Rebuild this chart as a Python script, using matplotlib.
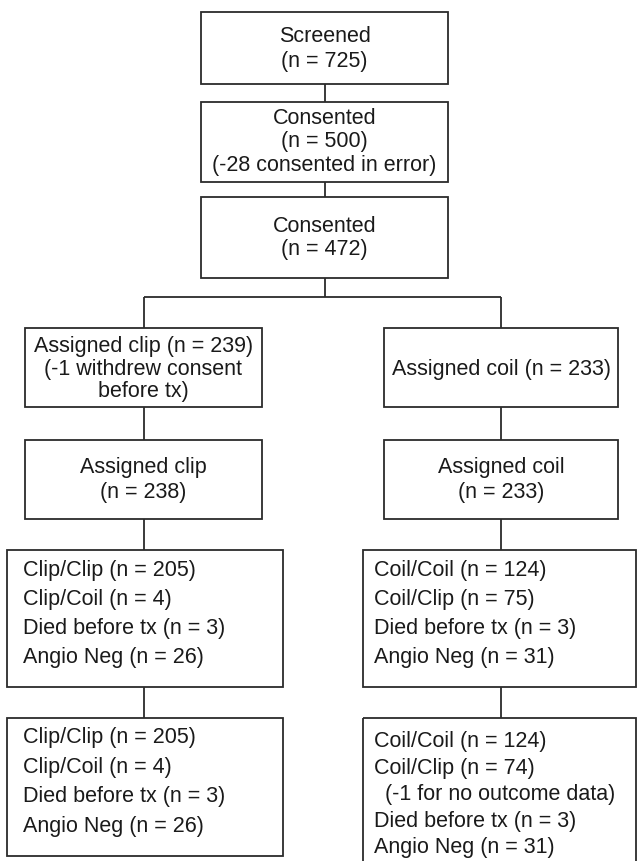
import matplotlib
matplotlib.use("Agg")
import matplotlib.pyplot as plt
from matplotlib.patches import Rectangle

# counts in the flow diagram
n_screened = 725
n_consented = 500
n_consented_error = 28
n_consented_final = 472

arm_names = ["clip", "coil"]
arm_assigned = [239, 233]
arm_withdrew = [1, 0]
arm_treated = [238, 233]

outcome_labels = [["Clip/Clip", "Clip/Coil", "Died before tx", "Angio Neg"],
                  ["Coil/Coil", "Coil/Clip", "Died before tx", "Angio Neg"]]
outcome_n_tx = [[205, 4, 3, 26], [124, 75, 3, 31]]
outcome_n_final = [[205, 4, 3, 26], [124, 74, 3, 31]]
no_outcome = [0, 1]  # lost from Coil/Clip for no outcome data

plt.rcParams['font.family'] = ['Liberation Sans', 'DejaVu Sans']
FS = 15.5
LC = '#2b2b2b'
LW = 1.3

fig = plt.figure(figsize=(6.37, 8.62), dpi=100)
ax = fig.add_axes([0, 0, 1, 1])
ax.set_xlim(0, 637)
ax.set_ylim(862, 0)
ax.axis('off')


def box(x0, x1, y0, y1):
    ax.add_patch(Rectangle((x0, y0), x1 - x0, y1 - y0, fill=False,
                           edgecolor=LC, linewidth=LW))


def line(xs, ys):
    ax.plot(xs, ys, color=LC, linewidth=LW, solid_capstyle='butt')


def centered(lines, xc, yc, pitch=24):
    y0 = yc - pitch * (len(lines) - 1) / 2
    for i, t in enumerate(lines):
        ax.text(xc, y0 + i * pitch, t, ha='center', va='center',
                fontsize=FS, color='#1a1a1a')


def listed(lines, x, y0, pitch, indents=None):
    for i, t in enumerate(lines):
        dx = 11 if (indents and indents[i]) else 0
        ax.text(x + dx, y0 + i * pitch, t, ha='left', va='center',
                fontsize=FS, color='#1a1a1a')


# top column
box(201, 448, 13, 85)
centered(["Screened", "(n = %d)" % n_screened], 324.5, 49.5, 25)
line([324.5, 324.5], [85, 103])
box(201, 448, 103, 183)
centered(["Consented", "(n = %d)" % n_consented,
          "(-%d consented in error)" % n_consented_error], 324.5, 142, 23.5)
line([324.5, 324.5], [183, 198])
box(201, 448, 198, 279)
centered(["Consented", "(n = %d)" % n_consented_final], 324.5, 238.5, 23)

# split into arms
cx = [143.5, 501]
line([324.5, 324.5], [279, 298])
line([cx[0], cx[1]], [298, 298])
for c in cx:
    line([c, c], [298, 328.5])

# assigned
box(25, 262, 328.5, 408)
centered(["Assigned %s (n = %d)" % (arm_names[0], arm_assigned[0]),
          "(-%d withdrew consent" % arm_withdrew[0], "before tx)"],
         cx[0], 369.5, 22.5)
box(384, 618, 328.5, 408)
centered(["Assigned %s (n = %d)" % (arm_names[1], arm_assigned[1])],
         cx[1], 369.5)

# treated
for i, (x0, x1) in enumerate([(25, 262), (384, 618)]):
    line([cx[i], cx[i]], [408, 441])
    box(x0, x1, 441, 520)
    centered(["Assigned %s" % arm_names[i], "(n = %d)" % arm_treated[i]],
             cx[i], 480, 25)
    line([cx[i], cx[i]], [520, 550.5])

# outcome boxes
bx = [(7, 283), (363, 636)]
tx = [23, 374]
for i in range(2):
    box(bx[i][0], bx[i][1], 550.5, 688)
    listed(["%s (n = %d)" % (l, n) for l, n in zip(outcome_labels[i], outcome_n_tx[i])],
           tx[i], 571, 29)
    line([cx[i], cx[i]], [688, 719])

box(7, 283, 719, 857)
listed(["%s (n = %d)" % (l, n) for l, n in zip(outcome_labels[0], outcome_n_final[0])],
       tx[0], 738, 29.5)

box(363, 636, 719, 900)
final_right = ["%s (n = %d)" % (l, n) for l, n in zip(outcome_labels[1], outcome_n_final[1])]
final_right.insert(2, "(-%d for no outcome data)" % no_outcome[1])
listed(final_right, tx[1], 742, 26.5, indents=[0, 0, 1, 0, 0])

fig.savefig("out.png", dpi=100, facecolor='white')
